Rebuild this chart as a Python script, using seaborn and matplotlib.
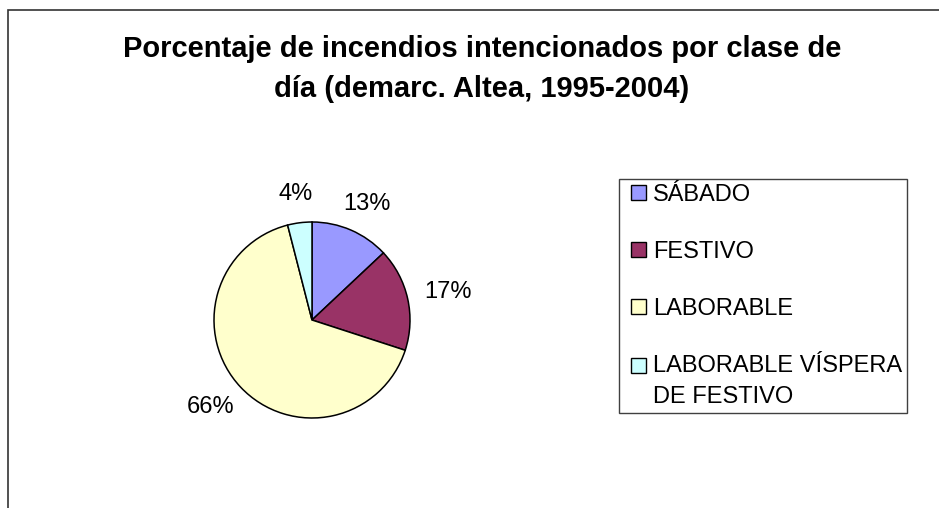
import matplotlib
matplotlib.use("Agg")
import numpy as np
import matplotlib.pyplot as plt
from matplotlib.patches import Rectangle
from matplotlib.legend_handler import HandlerBase
from matplotlib.transforms import offset_copy
import seaborn as sns

# Data
categorias = ["SÁBADO", "FESTIVO", "LABORABLE", "LABORABLE VÍSPERA\nDE FESTIVO"]
porcentajes = [13, 17, 66, 4]
colores = ["#9999FF", "#993366", "#FFFFCC", "#CCFFFF"]
titulo_1 = "Porcentaje de incendios intencionados por clase de"
titulo_2 = "día (demarc. Altea, 1995-2004)"

W, H = 939, 508
DPI = 100
FS = 17


class SquareHandler(HandlerBase):
    """Small square legend key, right aligned in the handle box."""
    def __init__(self, side, yshift=0):
        super().__init__()
        self.side = side
        self.yshift = yshift

    def create_artists(self, legend, orig_handle, xdescent, ydescent,
                       width, height, fontsize, trans):
        s = self.side
        x = -xdescent + width - s
        y = -ydescent + (height - s) / 2 + self.yshift
        p = Rectangle((x, y), s, s, facecolor=orig_handle.get_facecolor(),
                      edgecolor="black", linewidth=1.0, transform=trans)
        return [p]


sns.set_theme(style="white")
plt.rcParams["font.family"] = ["Liberation Sans", "DejaVu Sans"]
plt.rcParams["text.color"] = "black"

fig = plt.figure(figsize=(W / DPI, H / DPI), dpi=DPI)
fig.patch.set_facecolor("white")

# outer chart frame (cut off at right and bottom as in the original)
fig.patches.append(Rectangle((8 / W, -0.1), 1.1, 1 - 10 / H + 0.1,
                             transform=fig.transFigure, fill=False,
                             edgecolor="#333333", linewidth=1.2))

# pie axes: centre (312, 320) px, radius 98 px
size = 300
r_px = 98
cx, cy = 312, 320
ax = fig.add_axes([(cx - size / 2) / W, (H - cy - size / 2) / H, size / W, size / H])
lim = size / 2 / r_px

wedges, _, autotexts = ax.pie(
    porcentajes,
    colors=sns.color_palette(colores),
    startangle=90,
    counterclock=False,
    autopct=lambda p: f"{p:.0f}%",
    pctdistance=1.18,
    wedgeprops=dict(edgecolor="black", linewidth=1.1),
    textprops=dict(fontsize=FS, color="black"),
)
ax.set_xlim(-lim, lim)
ax.set_ylim(-lim, lim)
ax.set_aspect("equal")
ax.axis("off")

# Excel-like label placement: the label box touches a point just outside the pie
fig.canvas.draw()
renderer = fig.canvas.get_renderer()
for w, t in zip(wedges, autotexts):
    a = np.deg2rad((w.theta1 + w.theta2) / 2)
    bb = t.get_window_extent(renderer)
    dx = bb.width / 2 * np.cos(a)
    dy = bb.height / 2 * np.sin(a)
    t.set_transform(offset_copy(ax.transData, fig=fig, x=dx, y=dy, units="dots"))

# titles
fig.text(482 / W, 1 - 57 / H, titulo_1, ha="center", va="baseline",
         fontsize=21, fontweight="bold", color="black")
fig.text(482 / W, 1 - 97 / H, titulo_2, ha="center", va="baseline",
         fontsize=21, fontweight="bold", color="black")

linesp = 1.54
side_pt = 10.8
handler_map = {w: SquareHandler(side_pt) for w in wedges}
handler_map[wedges[-1]] = SquareHandler(side_pt, yshift=0.5 * linesp * FS * 0.88)

leg = fig.legend(
    wedges, categorias,
    loc="upper left",
    bbox_to_anchor=(619 / W, 1 - 179 / H),
    borderaxespad=0,
    fontsize=FS,
    frameon=True,
    fancybox=False,
    framealpha=1,
    edgecolor="#404040",
    handlelength=0.92,
    handleheight=0.68,
    handletextpad=0.3,
    labelspacing=1.48,
    borderpad=0.22,
    handler_map=handler_map,
)
leg.get_frame().set_linewidth(1.0)
for t in leg.get_texts():
    t.set_linespacing(linesp)
    t.set_color("black")

fig.savefig("out.png", dpi=DPI, facecolor="white")
